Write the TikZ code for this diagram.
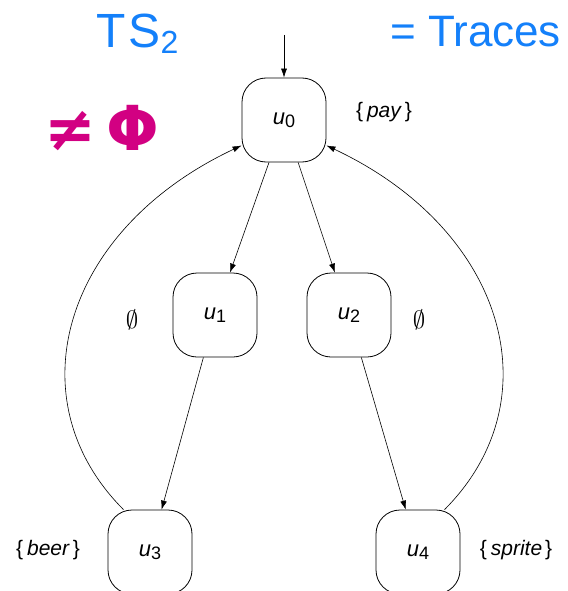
\documentclass[tikz,border=0pt]{standalone}
\usepackage{fontspec}
\setmainfont{Liberation Sans}
\newfontfamily\dejavu{DejaVu Sans}
\usetikzlibrary{arrows.meta}
\definecolor{penblue}{RGB}{20,128,250}
\definecolor{penmag}{RGB}{210,0,130}
\newcommand{\stname}[1]{\textit{u}\raisebox{-0.12em}{\fontsize{18}{18}\selectfont #1}}
\newcommand{\lset}[1]{\{\kern4pt\textit{#1}\kern3pt\}}
\begin{document}
\begin{tikzpicture}[x=1pt,y=-1pt,
  state/.style={draw,line width=0.8pt,rounded corners=24pt,minimum width=84pt,minimum height=84pt,inner sep=0pt,font=\fontsize{22}{22}\selectfont},
  lbl/.style={font=\fontsize{21}{21}\selectfont,inner sep=0pt},
  emp/.style={font=\fontsize{26}{26}\selectfont,inner sep=0pt},
  edge/.style={line width=0.6pt,-{Latex[length=9pt,width=6pt]}},
  hand/.style={inner sep=0pt,anchor=base west}]
\useasboundingbox (0,0) rectangle (567,591);
\fill[white] (0,0) rectangle (567,591);
\node[state] (u0) at (284,120) {\stname{0}};
\node[state] (u1) at (215,315) {\stname{1}};
\node[state] (u2) at (349,315) {\stname{2}};
\node[state] (u3) at (150,552) {\stname{3}};
\node[state] (u4) at (418,552) {\stname{4}};
\node[lbl] (l0) at (384,112) {\lset{pay}};
\node[emp] (l1) at (132,320) {$\emptyset$};
\node[emp] (l2) at (419,320) {$\emptyset$};
\node[lbl] (l3) at (48,550) {\lset{beer}};
\node[lbl] (l4) at (516,550) {\lset{sprite}};
\coordinate (init) at (284,35);
\draw[edge] (init) -- (u0);
\draw[edge] (u0) -- (u1);
\draw[edge] (u0) -- (u2);
\draw[edge] (u1) -- (u3);
\draw[edge] (u2) -- (u4);
\draw[edge] (u3.122) .. controls (14,400) and (62,230) .. (u0.211);
\draw[edge] (u4.58) .. controls (554,400) and (506,230) .. (u0.329);
\node[hand,text=penblue,font=\fontsize{48}{48}\selectfont] (ts) at (96,48) {T\kern3pt S\raisebox{-0.12em}{\fontsize{32}{32}\selectfont 2}};
\node[hand,text=penblue,font=\fontsize{44}{44}\selectfont] (tr) at (390,47) {= Traces};
\node[hand,text=penmag,font=\dejavu\bfseries\fontsize{62}{62}\selectfont] (ne) at (44,150) {≠\,Φ};
\end{tikzpicture}
\end{document}
